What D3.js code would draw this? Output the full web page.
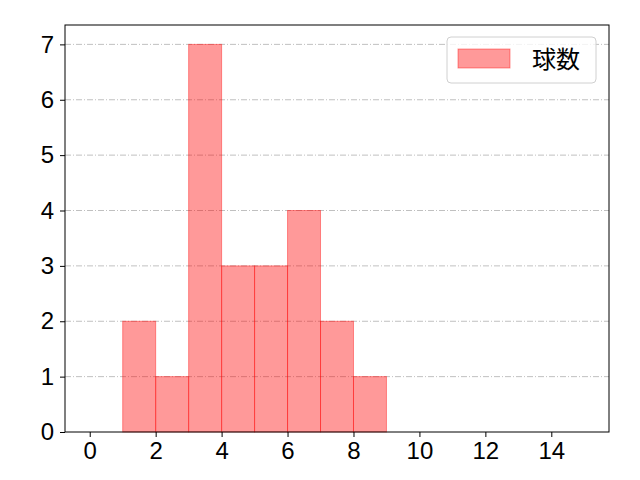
<!DOCTYPE html>
<html>
<head>
<meta charset="utf-8">
<script src="https://cdn.jsdelivr.net/npm/d3@7"></script>
<style>
  body { margin: 0; background: #fff; }
  text { font-family: "Noto Sans CJK JP", "DejaVu Sans", sans-serif; }
</style>
</head>
<body>
<div id="chart"></div>
<script>
// histogram bins (left edges) and counts
var binStarts = [1, 2, 3, 4, 5, 6, 7, 8];
var binCounts = [2, 1, 7, 3, 3, 4, 2, 1];
var binWidth = 1;
var xTicks = [0, 2, 4, 6, 8, 10, 12, 14];
var yTicks = [0, 1, 2, 3, 4, 5, 6, 7];
var seriesName = '球数';

var W = 640, H = 480;
var padL = 65, padR = 609, padT = 25, padB = 432;

var svg = d3.select('#chart').append('svg')
  .attr('width', W).attr('height', H);

var x = d3.scaleLinear().domain([-0.75, 15.75]).range([padL, padR]);
var y = d3.scaleLinear().domain([0, 7.35]).range([padB, padT]);

// grid
svg.append('g').selectAll('line').data(yTicks.slice(1)).enter().append('line')
  .attr('x1', padL).attr('x2', padR)
  .attr('y1', function (d) { return y(d); })
  .attr('y2', function (d) { return y(d); })
  .attr('stroke', '#b0b0b0').attr('stroke-width', 0.8)
  .attr('stroke-dasharray', '6,2,1,2');

// bars
svg.append('g').selectAll('rect').data(binStarts).enter().append('rect')
  .attr('x', function (d) { return x(d); })
  .attr('y', function (d, i) { return y(binCounts[i]); })
  .attr('width', function (d) { return x(d + binWidth) - x(d); })
  .attr('height', function (d, i) { return y(0) - y(binCounts[i]); })
  .attr('fill', 'rgba(255,0,0,0.4)')
  .attr('stroke', 'rgba(255,0,0,0.4)')
  .attr('stroke-width', 1);

// frame
svg.append('rect')
  .attr('x', padL).attr('y', padT)
  .attr('width', padR - padL).attr('height', padB - padT)
  .attr('fill', 'none').attr('stroke', '#000').attr('stroke-width', 1);

// axes
var xAxis = svg.append('g').attr('transform', 'translate(0,' + padB + ')')
  .call(d3.axisBottom(x).tickValues(xTicks).tickSize(5).tickPadding(5));
var yAxis = svg.append('g').attr('transform', 'translate(' + padL + ',0)')
  .call(d3.axisLeft(y).tickValues(yTicks).tickSize(5).tickPadding(6));
[xAxis, yAxis].forEach(function (a) {
  a.select('.domain').remove();
  a.attr('font-size', null).attr('font-family', null);
  a.selectAll('text').attr('font-size', 24).attr('fill', '#000')
    .style('font-family', '"Liberation Sans", sans-serif');
  a.selectAll('line').attr('stroke', '#000');
});

// legend
var lg = svg.append('g');
lg.append('rect')
  .attr('x', 447).attr('y', 37).attr('width', 149).attr('height', 46)
  .attr('rx', 4).attr('fill', 'rgba(255,255,255,0.8)')
  .attr('stroke', '#d0d0d0');
lg.append('rect')
  .attr('x', 458).attr('y', 49).attr('width', 52).attr('height', 19)
  .attr('fill', 'rgba(255,0,0,0.4)').attr('stroke', 'rgba(255,0,0,0.4)');
lg.append('text')
  .attr('x', 532).attr('y', 68)
  .attr('font-size', 24).attr('fill', '#000')
  .text(seriesName);
</script>
</body>
</html>
